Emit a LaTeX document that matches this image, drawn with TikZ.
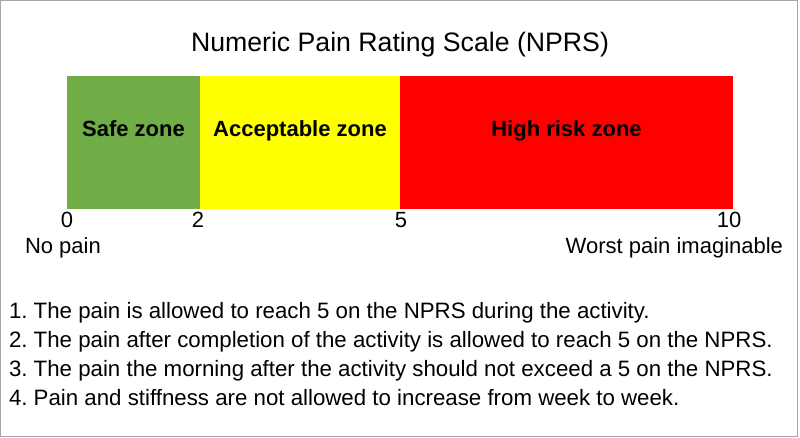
\documentclass[tikz,border=0pt]{standalone}
\usepackage{fontspec}
\setmainfont{Liberation Sans}
\frenchspacing
\definecolor{safegreen}{HTML}{70AD47}
\definecolor{accyellow}{HTML}{FFFF00}
\definecolor{riskred}{HTML}{FF0000}
\definecolor{framegray}{HTML}{A6A6A6}
\begin{document}
\begin{tikzpicture}[x=0.75pt,y=-0.75pt,
  txt/.style={inner sep=0pt,outer sep=0pt,font=\fontsize{16.5}{19}\selectfont},
  listtxt/.style={inner sep=0pt,outer sep=0pt,anchor=base west,font=\fontsize{16.7}{19}\selectfont},
  zonelbl/.style={inner sep=0pt,outer sep=0pt,anchor=base,font=\fontsize{16.5}{19}\selectfont\bfseries}]
\useasboundingbox (0,0) rectangle (800,438);
\draw[framegray,line width=0.9pt] (0.6,0.6) rectangle (797.6,436.6);
% title
\node[txt,anchor=base,font=\fontsize{20}{24}\selectfont] (title) at (400,52) {Numeric Pain Rating Scale (NPRS)};
% zones
\fill[safegreen] (67,76) rectangle (200,209);
\fill[accyellow] (200,76) rectangle (400,209);
\fill[riskred] (400,76) rectangle (733,209);
\node[zonelbl] (safe) at (133.5,137) {Safe zone};
\node[zonelbl] (acc) at (300,137) {Acceptable zone};
\node[zonelbl] (risk) at (566.5,137) {High risk zone};
% scale numbers
\node[txt,anchor=base] (n0) at (67,228) {0};
\node[txt,anchor=base] (n2) at (198,228) {2};
\node[txt,anchor=base] (n5) at (401,228) {5};
\node[txt,anchor=base] (n10) at (729,228) {10};
\node[txt,anchor=base west] (nopain) at (25,254) {No pain};
\node[txt,anchor=base east] (worst) at (783,254) {Worst pain imaginable};
% list
\node[listtxt] (l1) at (9,319) {1. The pain is allowed to reach 5 on the NPRS during the activity.};
\node[listtxt] (l2) at (9,348) {2. The pain after completion of the activity is allowed to reach 5 on the NPRS.};
\node[listtxt] (l3) at (9,377) {3. The pain the morning after the activity should not exceed a 5 on the NPRS.};
\node[listtxt] (l4) at (9,406) {4. Pain and stiffness are not allowed to increase from week to week.};
\end{tikzpicture}
\end{document}
